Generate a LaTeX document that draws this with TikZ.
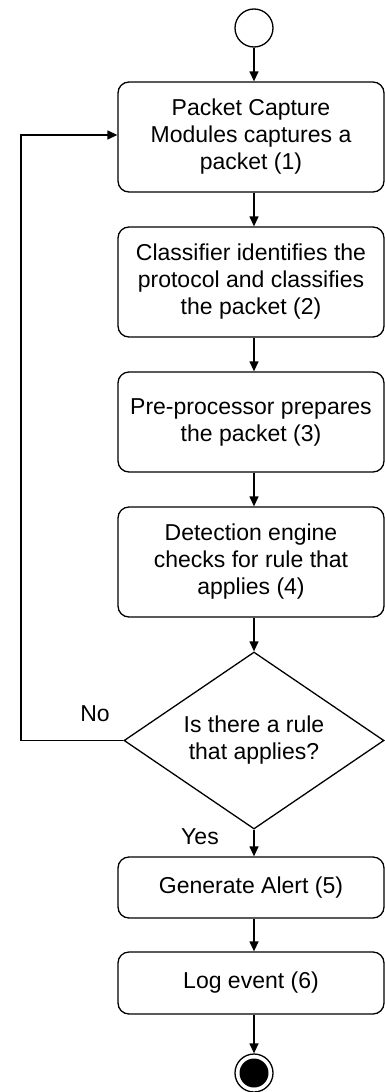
\documentclass[tikz,border=0pt]{standalone}
\usepackage{fontspec}
\setmainfont{Liberation Sans}
\usetikzlibrary{shapes.geometric,arrows.meta}
\begin{document}
\begin{tikzpicture}[x=1pt,y=-1pt,
  every node/.style={font=\fontsize{23}{27}\selectfont},
  stepbox/.style={draw,line width=1.3pt,rounded corners=11pt,minimum width=266pt,inner sep=0pt,align=center},
  arr/.style={line width=1.3pt,-{Triangle[length=10pt,width=9pt]}},
  lbl/.style={inner sep=0pt}]
\useasboundingbox (0,0) rectangle (385,1092);
\node[draw,circle,line width=1.3pt,minimum size=38pt,inner sep=0pt] (start) at (254,28) {};
\node[stepbox,minimum height=110pt] (b1) at (251,137) {Packet Capture\\Modules captures a\\packet (1)};
\node[stepbox,minimum height=110pt] (b2) at (251,282) {Classifier identifies the\\protocol and classifies\\the packet (2)};
\node[stepbox,minimum height=100pt] (b3) at (251,422) {Pre-processor prepares\\the packet (3)};
\node[stepbox,minimum height=110pt] (b4) at (251,562) {Detection engine\\checks for rule that\\applies (4)};
\node[draw,diamond,line width=1.3pt,minimum width=260pt,minimum height=177pt,aspect=1.47,inner sep=0pt,align=center] (dec) at (254,740.5) {Is there a rule\\that applies?};
\node[stepbox,minimum height=61pt] (b5) at (251,887.5) {Generate Alert (5)};
\node[stepbox,minimum height=62pt] (b6) at (251,983) {Log event (6)};
\node[draw,circle,line width=1.3pt,minimum size=38pt,inner sep=0pt] (end) at (254,1073) {};
\fill (end.center) circle (14.5pt);
\coordinate (ltop) at (21,135);
\coordinate (lbot) at (21,740.5);
\node[lbl] (no) at (95,714) {No};
\node[lbl] (yes) at (200,837) {Yes};
\draw[arr] (start) -- (b1.north -| start);
\draw[arr] (b1.south -| start) -- (b2.north -| start);
\draw[arr] (b2.south -| start) -- (b3.north -| start);
\draw[arr] (b3.south -| start) -- (b4.north -| start);
\draw[arr] (b4.south -| start) -- (dec.north);
\draw[arr] (dec.south) -- (b5.north -| start);
\draw[arr] (b5.south -| start) -- (b6.north -| start);
\draw[arr] (b6.south -| start) -- (end.north);
\draw[arr] (dec.west) -- (lbot) -- (ltop) -- (b1.west |- ltop);
\end{tikzpicture}
\end{document}
